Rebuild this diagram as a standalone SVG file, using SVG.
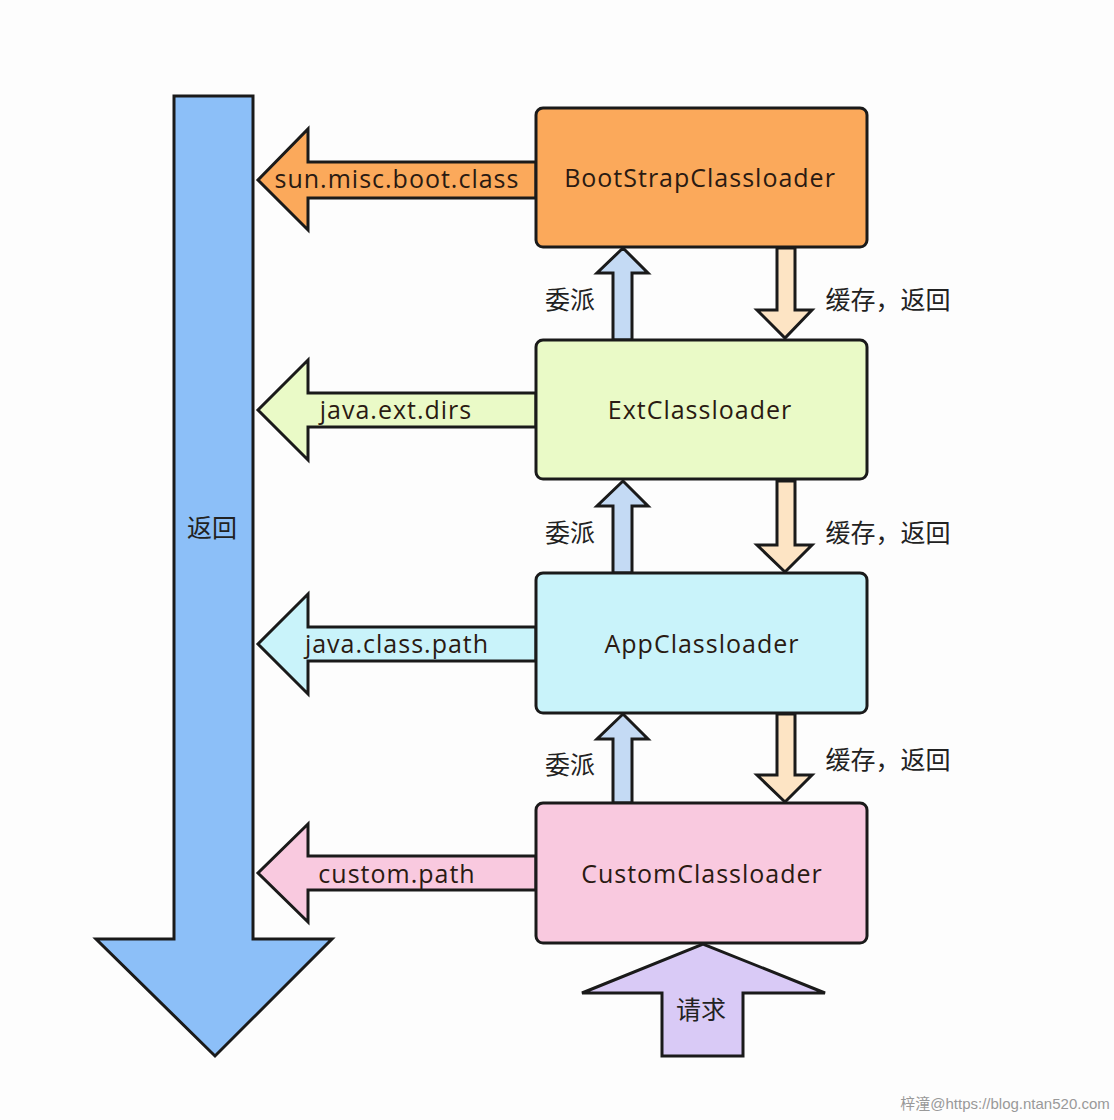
<svg xmlns="http://www.w3.org/2000/svg" width="1114" height="1120" viewBox="0 0 1114 1120">
<style>
.s{stroke:#1a1a1a;stroke-width:3;stroke-linejoin:miter}
.t{font-family:"Open Sans","Noto Sans",sans-serif;font-size:25px;letter-spacing:1px;fill:#2a1a12;text-anchor:middle}
.c{font-family:"Noto Sans CJK SC","Noto Sans",sans-serif;font-size:25px;fill:#222;text-anchor:middle}
.up{fill:#c4daf4}
.dn{fill:#fde4c4}
</style>
<rect width="1114" height="1120" fill="#fdfdfd"/>
<g id="return-arrow">
<polygon class="s" fill="#8cbff8" points="174,96 253,96 253,939 332,939 215,1056 96,939 174,939"/>
<text class="c" x="212" y="537">返回</text>
</g>
<g id="connectors">
<polygon class="s" fill="#fba95b" points="536,162 308,162 308,129 258,180 308,230 308,198 536,198"/>
<text class="t" x="397" y="188">sun.misc.boot.class</text>
<polygon class="s" fill="#eafac7" points="536,393 308,393 308,360 258,410 308,460 308,427 536,427"/>
<text class="t" x="396" y="419">java.ext.dirs</text>
<polygon class="s" fill="#c9f3fa" points="536,627 308,627 308,594 258,644 308,694 308,661 536,661"/>
<text class="t" x="397" y="653">java.class.path</text>
<polygon class="s" fill="#f9c9df" points="536,856 308,856 308,824 258,873 308,922 308,890 536,890"/>
<text class="t" x="397" y="883">custom.path</text>

<polygon class="s up" points="613,340 613,273 597,273 623,248 648,273 632,273 632,340"/>
<polygon class="s up" points="613,573 613,506 597,506 623,481 648,506 632,506 632,573"/>
<polygon class="s up" points="613,803 613,739 597,739 623,714 648,739 632,739 632,803"/>
<text class="c" x="570" y="309">委派</text>
<text class="c" x="570" y="542">委派</text>
<text class="c" x="570" y="774">委派</text>

<polygon class="s dn" points="777,248 777,310 757,310 785,338 812,310 795,310 795,248"/>
<polygon class="s dn" points="777,481 777,545 757,545 785,572 812,545 795,545 795,481"/>
<polygon class="s dn" points="777,714 777,775 757,775 785,802 812,775 795,775 795,714"/>
<text class="c" x="888" y="309">缓存，返回</text>
<text class="c" x="888" y="542">缓存，返回</text>
<text class="c" x="888" y="769">缓存，返回</text>

<polygon class="s" fill="#d9caf6" points="662,1056 662,993 582,993 703,944 825,993 743,993 743,1056"/>
<text class="c" x="701" y="1019">请求</text>
</g>
<g id="bootstrap">
<rect class="s" x="536" y="108" width="331" height="139" rx="7" fill="#fba95b"/>
<text class="t" x="700" y="187">BootStrapClassloader</text>
</g>
<g id="ext">
<rect class="s" x="536" y="340" width="331" height="139" rx="7" fill="#eafac7"/>
<text class="t" x="700" y="419">ExtClassloader</text>
</g>
<g id="app">
<rect class="s" x="536" y="573" width="331" height="140" rx="7" fill="#c9f3fa"/>
<text class="t" x="702" y="653">AppClassloader</text>
</g>
<g id="custom">
<rect class="s" x="536" y="803" width="331" height="140" rx="7" fill="#f9c9df"/>
<text class="t" x="702" y="883">CustomClassloader</text>
</g>
<text x="1005" y="1109" font-family="'Liberation Sans','Noto Sans CJK SC',sans-serif" font-size="15" fill="#999" text-anchor="middle">梓潼@https://blog.ntan520.com</text>
</svg>
